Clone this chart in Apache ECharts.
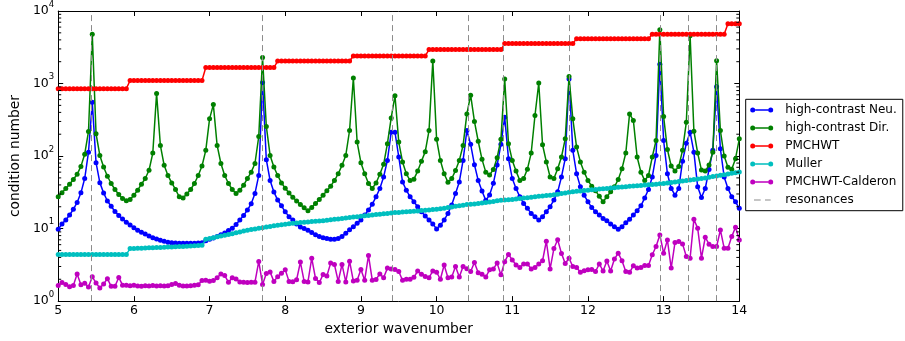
<!DOCTYPE html>
<html>
<head>
<meta charset="utf-8">
<script src="https://cdn.jsdelivr.net/npm/echarts@6/dist/echarts.min.js"></script>
<style>
  html, body { margin: 0; padding: 0; background: #fff; }
  #chart { width: 905px; height: 341px; }
</style>
</head>
<body>
<div id="chart"></div>
<script>
// Sampling grid of the exterior wavenumber: 5.00, 5.05, ..., 14.00 (181 samples)
const xStart = 5;
const xStep = 0.05;

// high-contrast Neu. (each row = 10 samples, 0.5 wide)
const neu = [
  9.8, 11.6, 13.1, 15.4, 18.4, 22.9, 31.1, 49, 113, 550,
  81, 43, 31, 24, 20.3, 17.2, 15.2, 13.5, 12.2, 11.2,
  10.3, 9.5, 8.9, 8.4, 7.9, 7.5, 7.2, 6.9, 6.7, 6.5,
  6.4, 6.35, 6.3, 6.3, 6.3, 6.3, 6.3, 6.35, 6.4, 6.8,
  7.1, 7.4, 7.8, 8.2, 8.7, 9.4, 10.1, 11.4, 13.1, 15.2,
  18, 22, 30.5, 54, 1035, 89, 46, 32, 24.7, 20.6,
  17, 14.6, 13.1, 11.6, 10.5, 10.0, 9.5, 8.8, 8.2, 7.8,
  7.5, 7.3, 7.1, 7.1, 7.3, 7.8, 8.6, 9.6, 10.6, 11.8,
  13.1, 15.4, 18, 21.7, 27.4, 35.7, 51.5, 87, 213, 213,
  97, 44, 33.8, 27.4, 23.4, 20, 17.1, 14.9, 13.1, 11.6,
  9.9, 11.1, 13.1, 16.2, 21.1, 30.5, 44, 87, 225, 145,
  76, 46, 33, 24.5, 29, 42, 75, 145, 343, 92,
  49, 35.7, 27.4, 22.2, 19, 16.2, 14.6, 13.1, 14.6, 17.1,
  20, 24.7, 32.1, 51.5, 92, 1152, 120, 57, 37.6, 28.9,
  23.4, 19.6, 17.1, 15.4, 13.8, 12.8, 11.6, 10.6, 9.8, 10.6,
  12, 13.4, 15.4, 17.6, 20.6, 26.5, 34.6, 51.5, 102, 1850,
  164, 57, 35.7, 28.9, 35.7, 85, 150, 213, 113, 37.6,
  26.9, 35.7, 65, 120, 900, 126, 51.5, 35.7, 27.4, 23.4,
  19
];

// high-contrast Dir.
const dir = [
  27.4, 31.1, 35.7, 40.9, 47.5, 56, 72, 106, 218, 4775,
  203, 102, 70.6, 52.7, 41.8, 34.6, 29.5, 26, 24.1, 25.2,
  28.9, 33.8, 40.9, 49, 63.7, 110, 731, 140, 74.5, 54,
  42.6, 34.6, 27.4, 26.5, 29.9, 34.6, 41.8, 54, 73, 120,
  326, 512, 140, 79, 54, 41.8, 34.6, 30.5, 33.8, 39.6,
  49, 60, 79, 186, 2280, 256, 102, 70.6, 54, 42.6,
  36, 31, 27, 24, 21.5, 19.3, 17.6, 19.6, 22.2, 25.2,
  28.9, 33.2, 38.4, 46, 57, 74.5, 102, 225, 1190, 156,
  81, 57, 41.8, 35.7, 42.6, 56, 77, 148, 336, 680,
  156, 83, 57, 46, 48, 62, 85, 115, 225, 2050,
  170, 87, 57, 43.5, 49, 63, 87, 140, 381, 690,
  300, 160, 90, 60, 55, 65, 95, 170, 1150, 148,
  87, 62, 46, 49, 66, 110, 362, 1016, 143, 83,
  51.5, 49, 67, 97, 173, 1250, 326, 133, 83, 60,
  46, 38.4, 33.1, 28, 23.4, 27.4, 32.1, 37.6, 47.5, 67,
  110, 381, 310, 97, 60, 46, 54, 97, 164, 5500,
  350, 123, 73, 62, 72, 120, 293, 4550, 220, 110,
  64, 62, 75, 113, 2055, 225, 100, 70, 66, 92,
  173
];

// PMCHWT
const pmchwt = [
  850, 850, 850, 850, 850, 850, 850, 850, 850, 850,
  850, 850, 850, 850, 850, 850, 850, 850, 850, 1100,
  1100, 1100, 1100, 1100, 1100, 1100, 1100, 1100, 1100, 1100,
  1100, 1100, 1100, 1100, 1100, 1100, 1100, 1100, 1100, 1660,
  1660, 1660, 1660, 1660, 1660, 1660, 1660, 1660, 1660, 1660,
  1660, 1660, 1660, 1660, 1660, 1660, 1660, 1660, 2040, 2040,
  2040, 2040, 2040, 2040, 2040, 2040, 2040, 2040, 2040, 2040,
  2040, 2040, 2040, 2040, 2040, 2040, 2040, 2040, 2400, 2400,
  2400, 2400, 2400, 2400, 2400, 2400, 2400, 2400, 2400, 2400,
  2400, 2400, 2400, 2400, 2400, 2400, 2400, 2400, 2940, 2940,
  2940, 2940, 2940, 2940, 2940, 2940, 2940, 2940, 2940, 2940,
  2940, 2940, 2940, 2940, 2940, 2940, 2940, 2940, 3550, 3550,
  3550, 3550, 3550, 3550, 3550, 3550, 3550, 3550, 3550, 3550,
  3550, 3550, 3550, 3550, 3550, 3550, 3550, 4160, 4160, 4160,
  4160, 4160, 4160, 4160, 4160, 4160, 4160, 4160, 4160, 4160,
  4160, 4160, 4160, 4160, 4160, 4160, 4160, 4780, 4780, 4780,
  4780, 4780, 4780, 4780, 4780, 4780, 4780, 4780, 4780, 4780,
  4780, 4780, 4780, 4780, 4780, 4780, 4780, 6670, 6670, 6670,
  6670
];

// Muller
const muller = [
  4.4, 4.4, 4.4, 4.4, 4.4, 4.4, 4.4, 4.4, 4.4, 4.4,
  4.4, 4.4, 4.4, 4.4, 4.4, 4.4, 4.4, 4.4, 4.4, 5.3,
  5.32, 5.35, 5.37, 5.40, 5.42, 5.45, 5.48, 5.50, 5.53, 5.56,
  5.59, 5.62, 5.65, 5.68, 5.72, 5.76, 5.80, 5.84, 5.88, 7.1,
  7.3, 7.5, 7.7, 7.9, 8.1, 8.3, 8.5, 8.75, 9.0, 9.25,
  9.5, 9.7, 9.9, 10.1, 10.3, 10.5, 10.7, 10.9, 11.1, 11.3,
  11.5, 11.65, 11.8, 11.95, 12.1, 12.2, 12.35, 12.5, 12.6, 12.7,
  12.8, 13.0, 13.2, 13.4, 13.6, 13.8, 14.0, 14.2, 14.4, 14.6,
  14.8, 15.0, 15.2, 15.4, 15.6, 15.8, 16.0, 16.2, 16.4, 16.6,
  16.7, 16.9, 17.0, 17.2, 17.4, 17.5, 17.7, 17.9, 18.1, 18.3,
  18.4, 18.7, 19.1, 19.5, 19.9, 20.3, 20.6, 21.0, 21.4, 21.6,
  21.8, 22.1, 22.5, 22.9, 23.3, 23.7, 24.1, 24.5, 24.8, 25.0,
  25.2, 25.6, 26.0, 26.3, 26.7, 27.1, 27.5, 27.8, 28.2, 28.6,
  28.9, 29.3, 29.8, 30.4, 31.0, 31.6, 32.1, 32.6, 33.0, 33.4,
  33.8, 34.2, 34.6, 35.0, 35.4, 35.8, 36.2, 36.6, 37.0, 37.4,
  37.8, 38.2, 38.6, 39.0, 39.4, 39.8, 40.2, 40.6, 41.0, 41.4,
  41.8, 42.5, 43.2, 43.9, 44.6, 45.3, 46.0, 46.8, 47.5, 48.2,
  49.0, 50.0, 51.0, 52.1, 53.2, 54.3, 55.4, 56.5, 57.7, 58.9,
  60.2
];

// PMCHWT-Calderon
const calderon = [
  1.64, 1.8, 1.7, 1.58, 1.64, 2.37, 1.68, 1.76, 1.56, 2.16,
  1.78, 1.52, 1.72, 2.04, 1.6, 1.6, 2.12, 1.66, 1.66, 1.63,
  1.66, 1.62, 1.6, 1.63, 1.62, 1.64, 1.62, 1.63, 1.62, 1.63,
  1.7, 1.75, 1.65, 1.62, 1.62, 1.63, 1.66, 1.68, 1.92, 1.94,
  1.88, 1.92, 2.1, 2.37, 2.25, 1.82, 2.1, 2.02, 1.84, 1.82,
  1.8, 1.82, 1.82, 3.52, 1.7, 2.4, 2.52, 1.87, 2.16, 2.42,
  2.7, 1.87, 1.85, 1.97, 3.45, 1.87, 1.84, 3.9, 2.05, 1.8,
  2.33, 2.22, 3.34, 3.2, 1.87, 3.2, 1.84, 3.55, 1.89, 1.94,
  2.73, 1.94, 4.27, 1.94, 1.99, 2.37, 2.1, 2.85, 2.78, 2.73,
  2.56, 1.94, 2.0, 2.0, 2.13, 2.6, 2.35, 2.18, 2.1, 2.6,
  2.5, 2.0, 3.15, 2.1, 2.15, 3.0, 2.15, 3.0, 2.8, 2.56,
  3.4, 2.46, 2.35, 2.15, 2.7, 2.78, 3.34, 2.3, 3.5, 4.4,
  3.7, 3.15, 2.9, 3.25, 3.25, 2.78, 2.9, 3.25, 3.6, 6.7,
  2.78, 5.3, 7.0, 4.55, 3.3, 3.9, 3.0, 2.9, 2.5, 2.63,
  2.7, 2.73, 2.56, 3.25, 2.6, 3.58, 2.6, 3.8, 4.58, 3.6,
  2.56, 2.49, 3.07, 2.85, 2.91, 3.1, 3.1, 4.35, 5.65, 8.17,
  4.58, 6.98, 2.85, 6.41, 6.62, 6.15, 4.12, 3.91, 13.4, 10.1,
  3.91, 7.59, 6.09, 5.65, 5.65, 9.57, 5.36, 5.36, 7.75, 10.4,
  6.98
];

// resonance wavenumbers (dashed vertical lines)
const resonances = [5.44, 7.70, 9.41, 10.42, 10.88, 11.75, 12.95, 13.32, 13.69];

const seriesNames = ['high-contrast Neu.', 'high-contrast Dir.', 'PMCHWT', 'Muller', 'PMCHWT-Calderon', 'resonances'];
const seriesColors = ['#0000ff', '#008000', '#ff0000', '#00bfbf', '#bf00bf', '#8c8c8c'];
const xAxisLabel = 'exterior wavenumber';
const yAxisLabel = 'condition number';

const FONT = 'DejaVu Sans';
const xs = neu.map((_, i) => +(xStart + i * xStep).toFixed(2));
const toPairs = arr => arr.map((v, i) => [xs[i], v]);

// minor ticks of the log axis (2..9 in every decade)
const minorTicks = [];
[1, 10, 100, 1000].forEach(d => { for (let k = 2; k <= 9; k++) minorTicks.push([xStart, k * d]); });

const lineIcon = 'path://M0,2.5a2.5,2.5 0 1,0 5,0a2.5,2.5 0 1,0 -5,0zM18,2.5a2.5,2.5 0 1,0 5,0a2.5,2.5 0 1,0 -5,0zM5,1.75h13v1.5h-13z';
const dashIcon = 'path://M0,2h0.01v1h-0.01zM3.8,2h6.7v1h-6.7zM14.8,2h5.7v1h-5.7zM22.99,2h0.01v1h-0.01z';

const chart = echarts.init(document.getElementById('chart'), null, { renderer: 'canvas' });

function lineSeries(idx, values) {
  return {
    name: seriesNames[idx],
    type: 'line',
    data: toPairs(values),
    symbol: 'circle',
    symbolSize: 5,
    showSymbol: true,
    showAllSymbol: true,
    color: seriesColors[idx],
    itemStyle: { color: seriesColors[idx], borderWidth: 0 },
    lineStyle: { color: seriesColors[idx], width: 1.5 },
    emphasis: { disabled: true },
    silent: true,
    animation: false,
    z: 2 + idx * 0.01
  };
}

const axisCommon = {
  axisLine: { show: true, onZero: false, lineStyle: { color: '#000', width: 1 } },
  splitLine: { show: false }
};

const option = {
  backgroundColor: '#fff',
  animation: false,
  textStyle: { fontFamily: FONT },
  grid: { left: 57.3, top: 9.5, width: 682, height: 292, containLabel: false },
  xAxis: [
    Object.assign({
      type: 'value', min: 5, max: 14, interval: 1, position: 'bottom',
      axisTick: { show: true, inside: true, length: 5, lineStyle: { color: '#000' } },
      axisLabel: { color: '#000', fontSize: 12.5, fontFamily: FONT, margin: 3 },
      name: xAxisLabel, nameLocation: 'middle', nameGap: 19,
      nameTextStyle: { color: '#000', fontSize: 13.8, fontFamily: FONT }
    }, axisCommon),
    Object.assign({
      type: 'value', min: 5, max: 14, interval: 1, position: 'top',
      axisTick: { show: true, inside: true, length: 5, lineStyle: { color: '#000' } },
      axisLabel: { show: false }
    }, axisCommon)
  ],
  yAxis: [
    Object.assign({
      type: 'log', logBase: 10, min: 1, max: 10000, position: 'left',
      axisTick: { show: true, inside: true, length: 5, lineStyle: { color: '#000' } },
      axisLabel: {
        margin: 4,
        formatter: v => '{b|10}{s|' + Math.round(Math.log10(v)) + '}',
        rich: {
          b: { fontSize: 12.5, lineHeight: 22, fontFamily: FONT, color: '#000' },
          s: { fontSize: 8.5, lineHeight: 9, verticalAlign: 'top', fontFamily: FONT, color: '#000' }
        }
      },
      name: yAxisLabel, nameLocation: 'middle', nameGap: 34,
      nameTextStyle: { color: '#000', fontSize: 13.8, fontFamily: FONT }
    }, axisCommon),
    Object.assign({
      type: 'log', logBase: 10, min: 1, max: 10000, position: 'right',
      axisTick: { show: true, inside: true, length: 5, lineStyle: { color: '#000' } },
      axisLabel: { show: false }
    }, axisCommon)
  ],
  legend: {
    orient: 'vertical',
    left: 745.7, top: 99.3,
    padding: [3.7, 6, 3.7, 4.5],
    itemGap: 4, itemWidth: 23, itemHeight: 5,
    symbolKeepAspect: true,
    backgroundColor: '#fff', borderColor: '#000', borderWidth: 1, borderRadius: 0,
    selectedMode: false,
    itemStyle: { borderWidth: 0 },
    textStyle: { fontFamily: FONT, fontSize: 12, color: '#000', lineHeight: 14, padding: [0, 0, 0, 7] },
    data: seriesNames.map((n, i) => ({ name: n, icon: i === 5 ? dashIcon : lineIcon }))
  },
  series: [
    lineSeries(0, neu),
    lineSeries(1, dir),
    lineSeries(2, pmchwt),
    lineSeries(3, muller),
    lineSeries(4, calderon),
    {
      name: seriesNames[5], type: 'line', data: [],
      color: seriesColors[5],
      itemStyle: { color: seriesColors[5] },
      lineStyle: { color: seriesColors[5], width: 1, type: [6, 4] },
      silent: true, animation: false, z: 5,
      markLine: {
        silent: true, symbol: ['none', 'none'], animation: false,
        label: { show: false },
        lineStyle: { color: seriesColors[5], width: 1, type: [6, 4] },
        emphasis: { disabled: true },
        data: resonances.map(r => ({ xAxis: r }))
      }
    },
    {
      type: 'custom', name: 'minor-ticks', silent: true, animation: false, z: 6,
      data: minorTicks,
      encode: { x: 0, y: 1 },
      renderItem: (params, api) => {
        const v = api.value(1);
        const pL = api.coord([5, v]);
        const pR = api.coord([14, v]);
        const st = { stroke: '#000', lineWidth: 1 };
        return {
          type: 'group',
          children: [
            { type: 'line', shape: { x1: pL[0], y1: pL[1], x2: pL[0] + 3, y2: pL[1] }, style: st },
            { type: 'line', shape: { x1: pR[0] - 3, y1: pR[1], x2: pR[0], y2: pR[1] }, style: st }
          ]
        };
      }
    }
  ]
};

chart.setOption(option);
</script>
</body>
</html>
